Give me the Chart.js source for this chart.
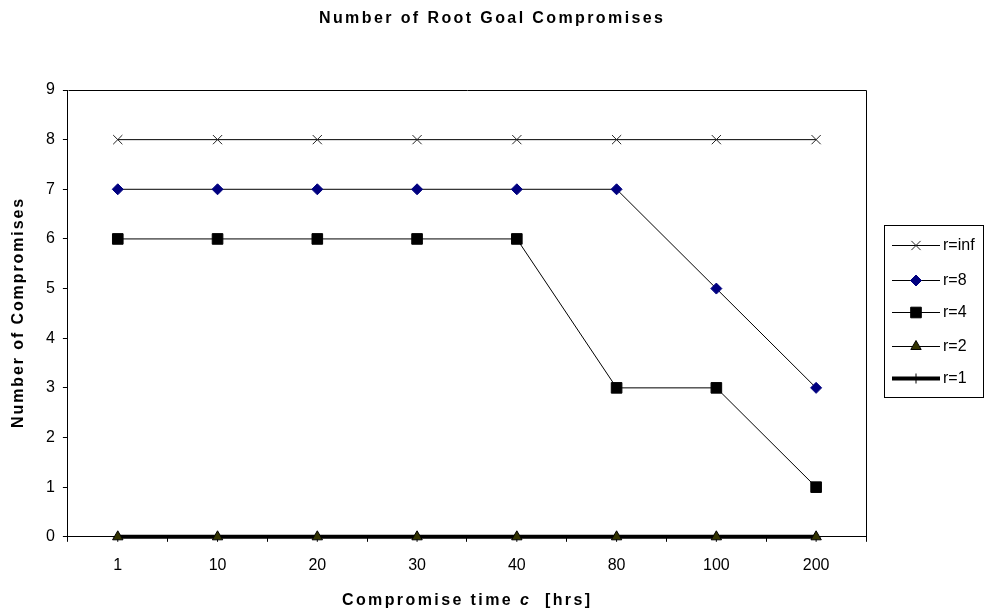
<!DOCTYPE html>
<html>
<head>
<meta charset="utf-8">
<script src="https://cdn.jsdelivr.net/npm/chart.js@4.4.1/dist/chart.umd.min.js"></script>
<style>
  html, body { margin: 0; padding: 0; background: #ffffff; }
  #wrap { width: 985px; height: 614px; }
</style>
</head>
<body>
<div id="wrap"><canvas id="c" width="985" height="614"></canvas></div>
<script>
// Compromise time c (hrs) categories
const categories = ['1', '10', '20', '30', '40', '80', '100', '200'];

// Number of root goal compromises per recovery setting r
const rInf = [8, 8, 8, 8, 8, 8, 8, 8];
const r8   = [7, 7, 7, 7, 7, 7, 5, 3];
const r4   = [6, 6, 6, 6, 6, 3, 3, 1];
const r2   = [0, 0, 0, 0, 0, 0, 0, 0];
const r1   = [0, 0, 0, 0, 0, 0, 0, 0];

const seriesNames = ['r=inf', 'r=8', 'r=4', 'r=2', 'r=1'];

const FONT = '"Liberation Sans", Arial, sans-serif';

// Draws text runs centred on (cx, cy) with extra spacing between letters
function spacedText(ctx, runs, cx, cy, spacing) {
  ctx.save();
  ctx.textBaseline = 'middle';
  ctx.textAlign = 'left';
  let total = 0;
  const glyphs = [];
  runs.forEach(([text, font]) => {
    ctx.font = font;
    for (const ch of text) {
      const w = ctx.measureText(ch).width;
      glyphs.push([ch, font, w]);
      total += w + spacing;
    }
  });
  total -= spacing;
  let x = cx - total / 2;
  glyphs.forEach(([ch, font, w]) => {
    ctx.font = font;
    ctx.fillText(ch, x, cy);
    x += w + spacing;
  });
  ctx.restore();
}

// Plot frame (top and right edges) like a boxed plot area
const frame = {
  id: 'frame',
  afterDatasetsDraw(chart) {
    const { ctx, chartArea: a } = chart;
    ctx.save();
    ctx.strokeStyle = '#000';
    ctx.lineWidth = 1;
    ctx.beginPath();
    ctx.moveTo(Math.round(a.left) + 0.5, Math.round(a.top) + 0.5);
    ctx.lineTo(Math.round(a.right) + 0.5, Math.round(a.top) + 0.5);
    ctx.lineTo(Math.round(a.right) + 0.5, Math.round(a.bottom) + 0.5);
    ctx.stroke();
    ctx.restore();
  }
};

// Titles and boxed legend
const decorations = {
  id: 'decorations',
  afterDraw(chart) {
    const { ctx, chartArea: a } = chart;
    const bold = 'bold 16px ' + FONT;
    ctx.save();
    ctx.fillStyle = '#000';

    // chart title
    spacedText(ctx, [['Number of Root Goal Compromises', bold]], 491, 19, 2.4);

    // y axis title
    ctx.save();
    ctx.translate(19, (a.top + a.bottom) / 2);
    ctx.rotate(-Math.PI / 2);
    spacedText(ctx, [['Number of Compromises', bold]], 0, 0, 1.9);
    ctx.restore();

    // x axis title with italic variable
    spacedText(ctx, [
      ['Compromise time ', bold],
      ['c', 'italic ' + bold],
      ['  [hrs]', bold]
    ], 466, 601, 2.4);

    // legend box
    const lx = 884, ly = 225, lw = 99, lh = 172;
    ctx.strokeStyle = '#000';
    ctx.lineWidth = 1;
    ctx.strokeRect(lx + 0.5, ly + 0.5, lw, lh);
    const rows = [245, 280, 312, 346, 378];
    chart.data.datasets.forEach((ds, i) => {
      const y = rows[i];
      ctx.save();
      ctx.strokeStyle = ds.borderColor;
      ctx.lineWidth = ds.borderWidth;
      ctx.beginPath();
      ctx.moveTo(892, y + 0.5);
      ctx.lineTo(940, y + 0.5);
      ctx.stroke();
      ctx.restore();
      ctx.save();
      ctx.fillStyle = ds.pointBackgroundColor;
      ctx.strokeStyle = ds.pointBorderColor;
      ctx.lineWidth = ds.pointBorderWidth;
      Chart.helpers.drawPoint(ctx, {
        pointStyle: ds.pointStyle,
        radius: ds.pointRadius,
        borderWidth: ds.pointBorderWidth,
        rotation: 0
      }, 916, y + 0.5);
      ctx.restore();
      ctx.font = '16px ' + FONT;
      ctx.fillStyle = '#000';
      ctx.textAlign = 'left';
      ctx.textBaseline = 'middle';
      ctx.fillText(ds.label, 943, y + 1);
    });
    ctx.restore();
  }
};

const styles = [
  { color: '#000000', point: 'crossRot', radius: 6.5, fill: '#000000', pBorder: '#222222', width: 1, pWidth: 1 },
  { color: '#000000', point: 'rectRot', radius: 5.5, fill: '#000080', pBorder: '#000080', width: 1, pWidth: 1 },
  { color: '#000000', point: 'rect', radius: 7.5, fill: '#000000', pBorder: '#000000', width: 1, pWidth: 1 },
  { color: '#000000', point: 'triangle', radius: 6, fill: '#333300', pBorder: '#000000', width: 1, pWidth: 1 },
  { color: '#000000', point: 'cross', radius: 5, fill: '#000000', pBorder: '#000000', width: 4, pWidth: 1 }
];
const values = [rInf, r8, r4, r2, r1];

new Chart(document.getElementById('c'), {
  type: 'line',
  data: {
    labels: categories,
    datasets: values.map((v, i) => ({
      label: seriesNames[i],
      data: v,
      borderColor: styles[i].color,
      borderWidth: styles[i].width,
      pointStyle: styles[i].point,
      pointRadius: styles[i].radius,
      pointHoverRadius: styles[i].radius,
      pointBackgroundColor: styles[i].fill,
      pointBorderColor: styles[i].pBorder,
      pointBorderWidth: styles[i].pWidth,
      tension: 0,
      fill: false,
      clip: false
    }))
  },
  options: {
    responsive: false,
    devicePixelRatio: 1,
    animation: false,
    events: [],
    layout: { padding: { top: 90, right: 119, bottom: 25, left: 38 } },
    plugins: {
      legend: { display: false },
      title: { display: false },
      tooltip: { enabled: false }
    },
    scales: {
      x: {
        type: 'category',
        offset: true,
        grid: {
          offset: true,
          drawOnChartArea: false,
          drawTicks: true,
          tickLength: 5,
          color: '#000'
        },
        border: { color: '#000', width: 1 },
        ticks: {
          color: '#000',
          font: { family: FONT, size: 16 },
          padding: 14,
          maxRotation: 0
        }
      },
      y: {
        min: 0,
        max: 9,
        grid: {
          drawOnChartArea: false,
          drawTicks: true,
          tickLength: 5,
          color: '#000'
        },
        border: { color: '#000', width: 1 },
        ticks: {
          stepSize: 1,
          color: '#000',
          font: { family: FONT, size: 16 },
          padding: 8
        }
      }
    }
  },
  plugins: [frame, decorations]
});
</script>
</body>
</html>
